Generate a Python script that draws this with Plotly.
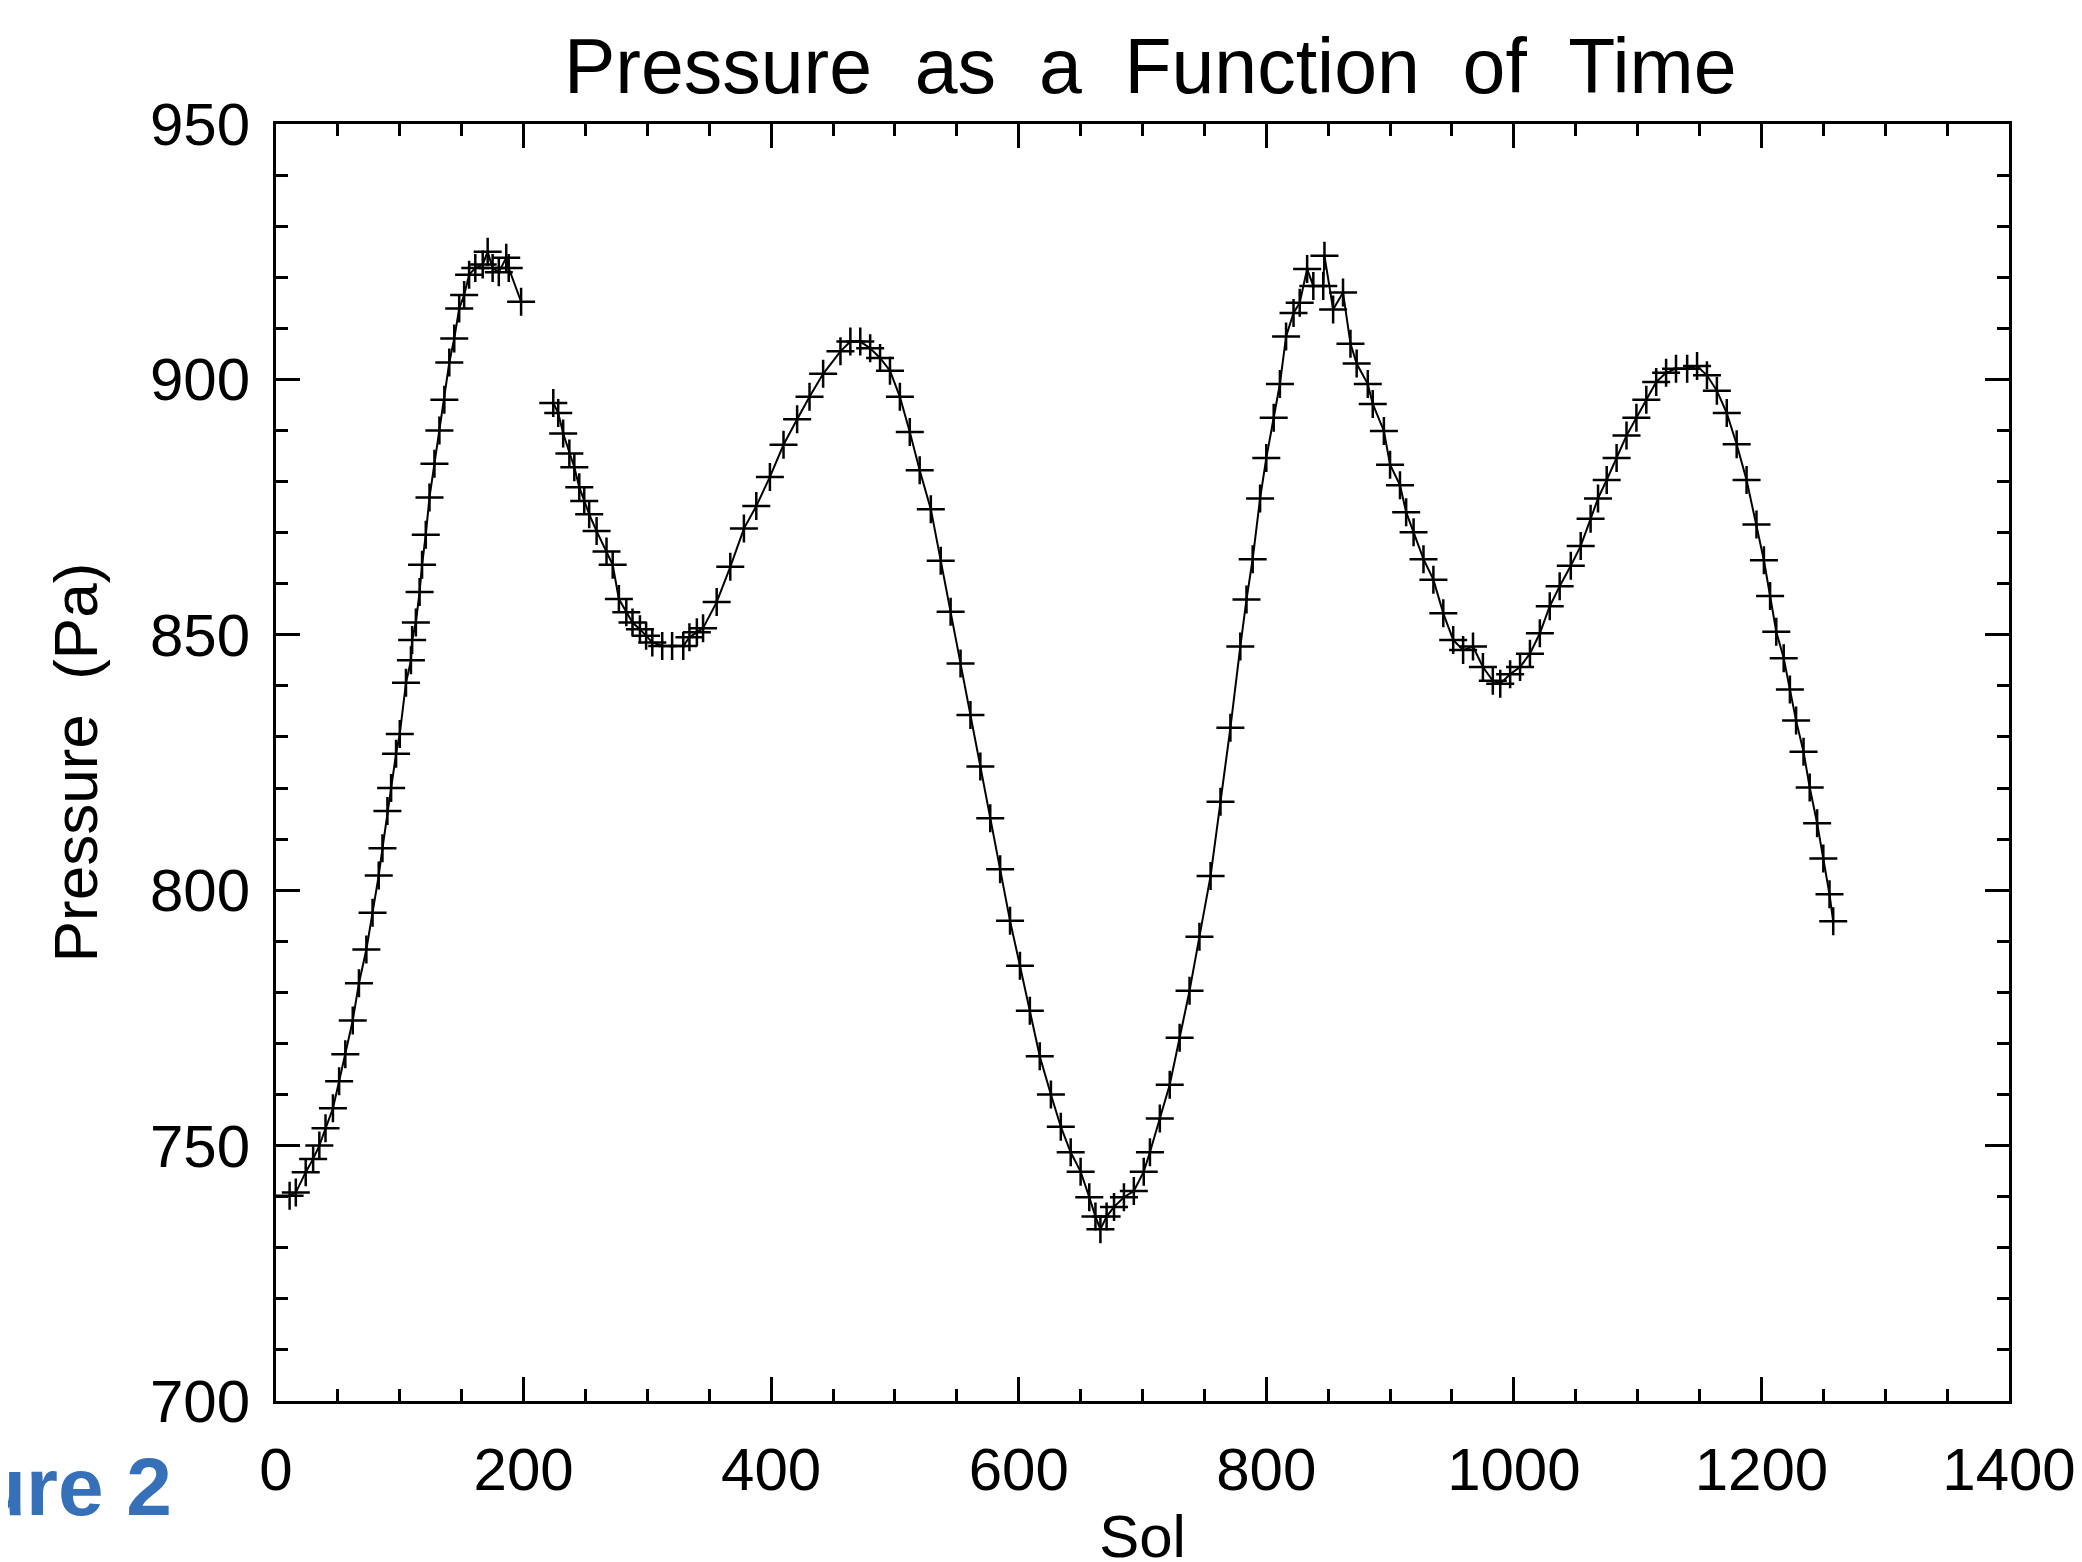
import plotly.graph_objects as go

# Sol values and surface pressure (Pa); None breaks the line at the data gap
sol = [
    11, 16, 24, 30, 35, 40, 46, 51, 56, 62, 67, 73, 78, 83, 86, 90, 93, 97, 100, 105,
    109, 110, 113, 116, 118, 121, 124, 128, 132, 136, 140, 144, 148, 152, 156, 161, 167, 171, 175, 180,
    186, 188, 198, None,
    224, 228, 232, 237, 241, 245, 249, 253, 259, 267, 272, 277, 283, 288, 294, 299, 304, 312, 320, 329,
    334, 340, 345, 356, 367, 378, 388, 399, 410, 421, 431, 442, 456, 464, 472, 480, 488, 496, 504, 512,
    520, 529, 537, 545, 553, 561, 569, 577, 585, 593, 601, 609, 617, 626, 634, 642, 650, 657, 662, 666,
    671, 677, 685, 693, 701, 706, 714, 722, 730, 738, 746, 755, 763, 771, 779, 784, 789, 795, 800, 806,
    811, 816, 822, 827, 833, 838, 846, 847, 854, 862, 868, 873, 882, 886, 895, 900, 908, 913, 919, 927,
    935, 943, 951, 959, 967, 975, 983, 989, 997, 1005, 1013, 1021, 1029, 1037, 1046, 1054, 1062, 1068, 1075, 1083,
    1091, 1099, 1107, 1115, 1123, 1131, 1140, 1148, 1156, 1164, 1172, 1180, 1188, 1196, 1202, 1207, 1212, 1218, 1223, 1228,
    1234, 1239, 1245, 1250, 1255, 1258,
]
pressure = [
    740.2, 740.8, 744.8, 747.4, 750.0, 753.4, 757.3, 762.6, 767.9, 774.5, 781.8, 788.4, 795.6, 802.9, 808.2, 815.5, 820.0, 826.7, 830.6, 840.6,
    845.0, 849.0, 852.4, 858.4, 863.7, 869.6, 876.9, 883.5, 890.0, 896.0, 903.3, 908.0, 913.9, 916.5, 920.5, 921.8, 922.5, 925.0, 921.8, 921.0,
    923.8, 921.8, 915.2, None,
    895.4, 893.4, 889.4, 885.5, 882.8, 878.9, 876.2, 873.6, 870.3, 866.3, 863.7, 857.0, 854.4, 852.4, 851.1, 849.8, 848.5, 847.8, 847.8, 847.8,
    849.5, 850.5, 851.3, 856.4, 863.3, 870.8, 875.2, 880.9, 887.2, 892.2, 896.6, 901.1, 905.5, 907.4, 907.4, 906.1, 904.2, 901.7, 896.6, 889.7,
    882.2, 874.6, 864.5, 854.5, 844.4, 834.3, 824.2, 814.1, 804.1, 794.0, 785.2, 776.4, 767.5, 760.0, 753.7, 748.7, 744.9, 739.9, 736.1, 733.6,
    736.1, 738.0, 739.9, 741.1, 744.9, 748.7, 755.3, 761.9, 771.1, 780.3, 790.9, 802.8, 817.3, 831.8, 847.7, 856.9, 864.8, 876.7, 884.6, 892.5,
    899.1, 908.4, 913.0, 915.0, 921.6, 918.3, 918.3, 924.2, 913.7, 917.0, 907.0, 903.1, 899.1, 895.2, 889.9, 883.3, 879.3, 874.0, 870.1, 864.8,
    860.8, 854.2, 849.0, 847.0, 847.7, 843.7, 841.0, 840.4, 842.3, 843.7, 846.3, 850.3, 855.6, 859.5, 863.5, 867.4, 872.7, 876.7, 880.3, 884.6,
    889.0, 892.5, 896.0, 899.5, 901.3, 902.1, 902.1, 902.6, 900.8, 897.8, 893.4, 887.3, 880.3, 871.6, 864.6, 857.6, 850.6, 845.4, 839.3, 833.2,
    827.1, 820.1, 813.1, 806.2, 799.2, 793.9,
]

FONT = "Liberation Sans, Arial, sans-serif"

fig = go.Figure()
fig.add_trace(go.Scatter(
    x=sol, y=pressure, mode="lines+markers", connectgaps=False,
    line=dict(color="black", width=2),
    marker=dict(symbol="cross-thin", size=20, line=dict(color="black", width=2.5)),
    showlegend=False,
))

axis_common = dict(
    showline=True, linecolor="black", linewidth=3, mirror="ticks",
    ticks="inside", ticklen=24, tickwidth=3, tickcolor="black",
    showgrid=False, zeroline=False, automargin=False,
    tickfont=dict(family=FONT, size=60, color="black"),
)

fig.update_xaxes(
    range=[0, 1400], tick0=0, dtick=200,
    minor=dict(ticks="inside", ticklen=12, tickwidth=3, tickcolor="black", dtick=50, showgrid=False),
    title=dict(text="Sol", font=dict(family=FONT, size=60, color="black"), standoff=22),
    ticklabelstandoff=14,
    **axis_common,
)
fig.update_yaxes(
    range=[700, 950], tick0=700, dtick=50,
    minor=dict(ticks="inside", ticklen=12, tickwidth=3, tickcolor="black", dtick=10, showgrid=False),
    title=dict(text="Pressure\u00a0\u00a0(Pa)", font=dict(family=FONT, size=62, color="black"), standoff=33),
    ticklabelstandoff=11,
    **axis_common,
)

fig.add_annotation(
    text="<b>Figure 2</b>", xref="paper", yref="paper", x=-0.059, y=-0.067,
    xanchor="right", yanchor="middle", showarrow=False,
    font=dict(family=FONT, size=82, color="#3670b8"),
)

fig.update_layout(
    width=2082, height=1562,
    title=dict(text="Pressure\u00a0 as\u00a0 a\u00a0 Function\u00a0 of\u00a0 Time", x=0.5486, xanchor="center",
               y=0.963, yanchor="middle", font=dict(family=FONT, size=77, color="black")),
    paper_bgcolor="white", plot_bgcolor="white",
    margin=dict(l=268, r=81, t=116, b=169),
)

fig.write_html("out.html")
